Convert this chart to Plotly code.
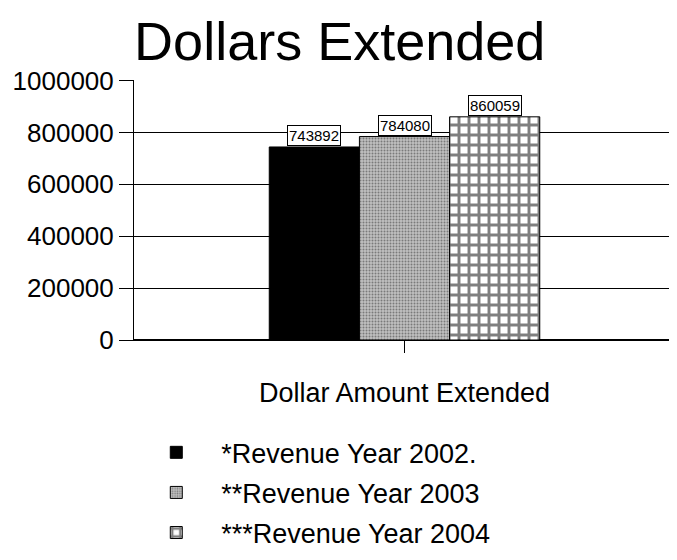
import plotly.graph_objects as go

categories = ["Dollar Amount Extended"]
series_names = ["*Revenue Year 2002.", "**Revenue Year 2003", "***Revenue Year 2004"]
values_2002 = [743892]
values_2003 = [784080]
values_2004 = [860059]
y_ticks = [0, 200000, 400000, 600000, 800000, 1000000]

series_values = [values_2002, values_2003, values_2004]
styles = [
    dict(color="black", pattern=dict(shape="")),
    dict(color="#a8a8a8", pattern=dict(shape=".", fgcolor="#333", bgcolor="#c0c0c0", size=3, solidity=0.35)),
    dict(color="white", pattern=dict(shape="+", fgcolor="black", bgcolor="white", size=10, solidity=0.5)),
]

fig = go.Figure()
for i, (name, vals, st) in enumerate(zip(series_names, series_values, styles)):
    fig.add_trace(go.Bar(
        x=categories, y=vals, name=name, legendgroup=f"g{i}",
        marker=dict(color=st["color"], pattern=st["pattern"], line=dict(color="black", width=1)),
    ))

n = len(series_names)
group_width = 0.5
bw = group_width / n
for i, vals in enumerate(series_values):
    xpos = -group_width / 2 + bw * (i + 0.5)
    fig.add_annotation(
        x=xpos, y=vals[0], xref="x", yref="y", text=str(vals[0]),
        showarrow=False, yanchor="bottom", yshift=1,
        font=dict(family="Liberation Sans, Arial", size=15, color="black"),
        bordercolor="black", borderwidth=1, borderpad=1, bgcolor="white",
    )

fig.update_layout(
    width=677, height=560,
    paper_bgcolor="white", plot_bgcolor="white",
    barmode="group", bargap=0.5, bargroupgap=0,
    margin=dict(l=126, r=10, t=72, b=228),
    font=dict(family="Liberation Sans, Arial", color="black"),
    title=dict(text="Dollars Extended", x=0.49, xanchor="center", y=0.975, yanchor="top",
               font=dict(size=54, color="black")),
    showlegend=True,
    legend=dict(x=-0.005, xanchor="left", yref="container", y=0.2495, yanchor="top",
                orientation="v", font=dict(size=27, color="black"),
                tracegroupgap=2, itemwidth=80),
)
fig.update_yaxes(range=[0, 1002000], tickvals=y_ticks, ticktext=[str(v) for v in y_ticks],
                 showgrid=True, gridcolor="black", gridwidth=1,
                 showline=True, linecolor="black", linewidth=1,
                 ticks="outside", ticklen=14, tickcolor="black", automargin=False,
                 tickfont=dict(size=26), zeroline=True, zerolinecolor="black")
fig.update_xaxes(showline=True, linecolor="black", linewidth=1,
                 ticks="outside", ticklen=12, tickcolor="black", automargin=False,
                 ticklabelstandoff=17, tickfont=dict(size=27))

fig.write_html("out.html")
